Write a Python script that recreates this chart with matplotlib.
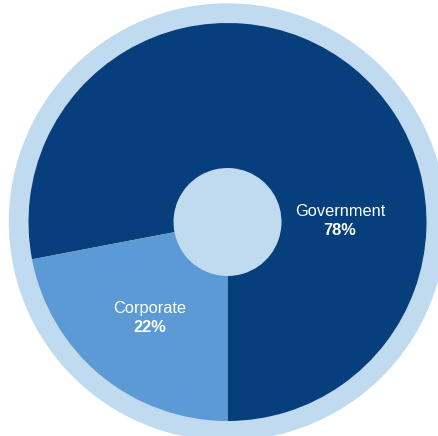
import matplotlib.pyplot as plt

# portfolio split
sectors = ['Government', 'Corporate']
shares = [78, 22]
colors = ['#073f7c', '#5b9ad4']
ring_color = '#c0dbef'

plt.rcParams['font.family'] = ['Liberation Sans', 'DejaVu Sans']

fig = plt.figure(figsize=(4.38, 4.36), dpi=100)
ax = fig.add_axes([0, 0, 1, 1])

cx, cy = 227.5, 214
ax.add_patch(plt.Circle((cx, cy), 218, color=ring_color, zorder=0))

ax.pie(shares, colors=colors, startangle=-90, counterclock=True,
       radius=199, center=(cx, cy), frame=True,
       wedgeprops=dict(width=145, linewidth=0))

# labels
offsets = {'Government': (112.5, 1.5), 'Corporate': (-78, -96.5)}
for name, val in zip(sectors, shares):
    dx, dy = offsets[name]
    ax.text(cx + dx, cy + dy + 9.5, name, color='white', fontsize=11.8,
            ha='center', va='center')
    ax.text(cx + dx, cy + dy - 9.5, f'{val}%', color='white', fontsize=11.8,
            fontweight='bold', ha='center', va='center')

ax.set_xlim(0, 438)
ax.set_ylim(0, 436)
ax.set_aspect('equal')
ax.axis('off')
plt.savefig('out.png', dpi=100)
plt.close()
